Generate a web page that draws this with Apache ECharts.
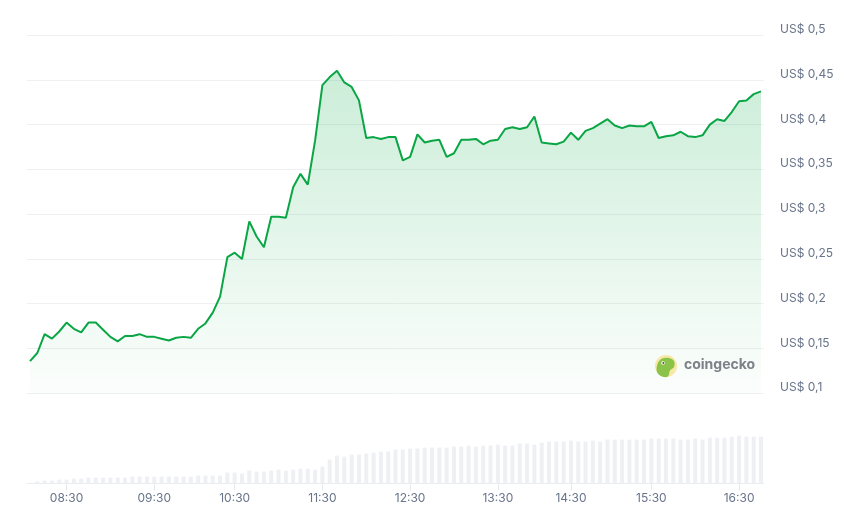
<!DOCTYPE html>
<html>
<head>
<meta charset="utf-8">
<script src="https://cdn.jsdelivr.net/npm/echarts@6/dist/echarts.min.js"></script>
<style>
html,body{margin:0;padding:0;background:#fff;}
#chart{width:849px;height:524px;}
</style>
</head>
<body>
<div id="chart"></div>
<script>
// Time stamps (category axis)
var times = [
 '08:05','08:10','08:15','08:20','08:25','08:30','08:35','08:40','08:45','08:50','08:55','09:00','09:05','09:10','09:15','09:20','09:25','09:30',
 '09:35','09:40','09:45','09:50','09:55','10:00','10:05','10:10','10:15','10:20','10:30',
 '10:35','10:40','10:45','10:50','10:55','11:00','11:05','11:10','11:15','11:20','11:25','11:30',
 '11:35','11:40','11:45','11:50','11:55','12:00','12:05','12:10','12:15','12:20','12:25','12:30',
 '12:35','12:40','12:45','12:50','12:55','13:00','13:05','13:10','13:15','13:20','13:25','13:30',
 '13:36','13:42','13:48','13:54','14:00','14:06','14:12','14:18','14:24','14:30',
 '14:35','14:40','14:45','14:50','14:55','15:00','15:05','15:10','15:15','15:20','15:30',
 '15:35','15:40','15:45','15:50','15:55','16:00','16:05','16:10','16:15','16:20','16:25','16:30',
 '16:35','16:40','16:45'
];

// Price in US$
var price = [
 0.136,0.145,0.166,0.161,0.169,0.179,0.172,0.168,0.179,0.179,0.171,0.163,0.158,0.164,0.164,0.166,0.163,0.163,0.161,0.159,
 0.162,0.163,0.162,0.172,0.178,0.190,0.208,0.252,0.257,0.250,0.292,0.275,0.263,0.297,0.297,
 0.296,0.330,0.345,0.333,0.382,0.444,0.453,0.460,0.447,0.442,0.427,0.385,0.386,0.384,0.386,0.386,0.360,0.364,0.389,0.380,
 0.382,0.383,0.364,0.368,0.383,0.383,0.384,0.378,0.382,0.383,0.395,0.397,0.395,0.397,0.409,
 0.380,0.379,0.378,0.381,0.391,0.383,0.393,0.396,0.401,0.406,0.399,0.396,0.399,0.398,0.398,0.403,0.385,0.387,0.388,0.392,
 0.387,0.386,0.388,0.400,0.406,0.404,0.414,0.426,0.427,0.434,0.437
];

// Volume (arbitrary units)
var volume = [
 0,17,27,27,37,37,47,47,57,57,57,57,57,57,67,67,67,67,67,67,67,67,67,77,77,77,77,107,107,97,127,117,117,127,
 137,127,137,147,147,137,167,237,277,267,287,287,297,307,317,317,337,337,347,347,357,357,357,357,367,367,377,367,377,377,387,377,377,397,
 397,387,407,417,417,417,427,417,417,427,417,437,437,437,437,437,437,447,447,447,447,437,437,447,437,457,457,457,467,477,467,467,467
];

// Price axis ticks
var priceMin = 0.1, priceMax = 0.5, priceStep = 0.05;

var chart = echarts.init(document.getElementById('chart'), null, {renderer:'canvas'});
var labelColor = '#677489';
var font = 'Inter, "Noto Sans", sans-serif';
function isHalf(idx, val){ return /:30$/.test(val); }

chart.setOption({
  animation: false,
  backgroundColor: '#ffffff',
  grid: [
    {left: 27, right: 85, top: 35, bottom: 130.7},
    {left: 30, right: 88, top: 35, bottom: 130.7},
    {left: 30, right: 88, top: 433.3, bottom: 40.7},
    {left: 27, right: 85, top: 433.3, bottom: 40.7}
  ],
  xAxis: [
    {gridIndex: 0, type: 'value', min: 0, max: 1, show: false},
    {gridIndex: 1, type: 'category', data: times, boundaryGap: false, show: false},
    {gridIndex: 2, type: 'category', data: times, boundaryGap: false,
     axisLine: {show: false},
     axisTick: {show: true, interval: isHalf, length: 7, lineStyle: {color: '#e6e9ee', width: 1}},
     axisLabel: {interval: isHalf, margin: 9, color: labelColor, fontSize: 12, fontFamily: font},
     splitLine: {show: false}},
    {gridIndex: 3, type: 'value', min: 0, max: 1, axisLine: {show: true, lineStyle: {color: '#e9ecf0', width: 1}},
     axisTick: {show: false}, axisLabel: {show: false}, splitLine: {show: false}}
  ],
  yAxis: [
    {gridIndex: 0, type: 'value', position: 'right', min: priceMin, max: priceMax, interval: priceStep,
     axisLine: {show: false}, axisTick: {show: false},
     splitLine: {lineStyle: {color: '#eef0f3', width: 1}},
     axisLabel: {margin: 16, color: labelColor, fontSize: 12, fontFamily: font, verticalAlign: 'bottom', lineHeight: 11,
       formatter: function(v){ return 'US$ ' + String(+v.toFixed(2)).replace('.', ','); }}},
    {gridIndex: 1, type: 'value', min: priceMin, max: priceMax, show: false},
    {gridIndex: 2, type: 'value', min: 0, max: 500, show: false},
    {gridIndex: 3, type: 'value', min: 0, max: 1, show: false}
  ],
  series: [
    {type: 'bar', xAxisIndex: 2, yAxisIndex: 2, data: volume, barWidth: 4,
     itemStyle: {color: '#eef0f3'}, silent: true},
    {type: 'line', xAxisIndex: 1, yAxisIndex: 1, data: price, symbol: 'none', smooth: false,
     lineStyle: {color: '#0aa544', width: 2},
     areaStyle: {color: {type: 'linear', x: 0, y: 0, x2: 0, y2: 1, colorStops: [
        {offset: 0, color: 'rgba(10,170,70,0.30)'},
        {offset: 1, color: 'rgba(10,170,70,0.02)'}
     ]}}, z: 3}
  ],
  graphic: [
    {type: 'circle', shape: {cx: 666, cy: 366, r: 11}, style: {fill: '#f8e8a6'}, z: 10},
    {type: 'polygon', shape: {smooth: 0.35, points: [[657,372],[657.5,364],[662,358.5],[669,358],[674,361],[674,367],[670,370.5],[668,376.5],[662,376.5]]},
     style: {fill: '#8bc34a'}, z: 11},
    {type: 'circle', shape: {cx: 663, cy: 363, r: 1.8}, style: {fill: '#ffffff'}, z: 12},
    {type: 'circle', shape: {cx: 663.3, cy: 363, r: 0.9}, style: {fill: '#4a4a4a'}, z: 13},
    {type: 'text', left: 684, top: 358, z: 10,
     style: {text: 'coingecko', fill: '#7d8189', font: 'bold 14px Inter, "Noto Sans", sans-serif'}}
  ]
});
</script>
</body>
</html>
